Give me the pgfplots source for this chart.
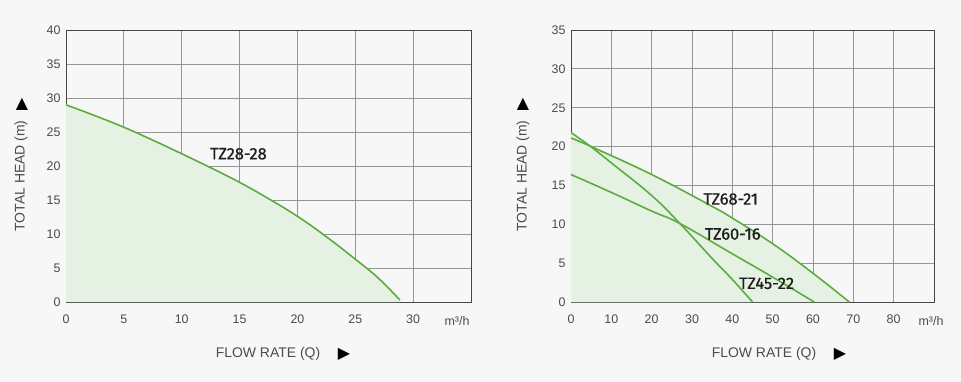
\documentclass[border=0pt]{standalone}
\usepackage{pgfplots}
\pgfplotsset{compat=1.18}
\usepackage{fontspec}
\setmainfont{Liberation Sans}
\newfontfamily\labfont{Fira Sans}[FakeBold=0.8]
\newfontfamily\symfont{DejaVu Sans}
\definecolor{bgcol}{RGB}{247,247,247}
\definecolor{gridcol}{RGB}{150,150,150}
\definecolor{framecol}{RGB}{70,70,70}
\definecolor{tickcol}{RGB}{75,75,75}
\definecolor{linecol}{RGB}{92,172,62}
\definecolor{fillcol}{RGB}{229,241,227}
\definecolor{labcol}{RGB}{30,30,30}
\tikzset{tzlab/.style={font=\labfont\fontsize{16.5}{18}\selectfont, text=labcol}}
\pgfplotsset{
  pump/.style={
    scale only axis, height=272bp, ymin=0,
    axis background/.style={fill=bgcol},
    grid=major, major grid style={draw=gridcol, line width=1pt},
    axis line style={draw=framecol, line width=1pt},
    tick style={draw=none},
    ticklabel style={font=\fontsize{12.5}{14}\selectfont, text=tickcol},
    xticklabel style={yshift=-9bp},
    yticklabel style={xshift=-2bp},
    /pgf/number format/assume math mode=true,
    clip=false,
  },
  curve/.style={draw=linecol, line width=1.6pt, smooth, tension=0.7},
  area/.style={fill=fillcol, draw=none, smooth, tension=0.7},
}
\begin{document}
\begin{tikzpicture}
\path[use as bounding box, fill=bgcol] (0,0) rectangle (961bp,382bp);
% Left chart
\begin{axis}[pump, at={(66bp,80bp)}, anchor=south west, width=405bp,
  xmin=0, xmax=35, ymax=40, xtick={0,5,...,30}, ytick={0,5,...,40}]
\addplot[area] coordinates {(0,29) (2.5,27.4) (5,25.7) (7.5,23.8) (10,21.8) (12.5,19.75) (15,17.6) (17.5,15.2) (20,12.6) (22.5,9.6) (25,6.3) (27,3.5) (28.85,0.3)} \closedcycle;
\addplot[curve] coordinates {(0,29) (2.5,27.4) (5,25.7) (7.5,23.8) (10,21.8) (12.5,19.75) (15,17.6) (17.5,15.2) (20,12.6) (22.5,9.6) (25,6.3) (27,3.5) (28.85,0.3)};
\node[tzlab] at (axis cs:14.9,21.8) {TZ28-28};
\end{axis}
% Right chart
\begin{axis}[pump, at={(571bp,80bp)}, anchor=south west, width=363bp,
  xmin=0, xmax=90, ymax=35, xtick={0,10,...,80}, ytick={0,5,...,35}]
\addplot[area] coordinates {(0,21.1) (5,20.0) (20,16.4) (35,12.3) (40,10.8) (50,7.5) (60,3.7) (69,0)} \closedcycle;
\addplot[area] coordinates {(0,21.8) (4.9,20.0) (10,17.9) (20,13.7) (27,10.1) (35,5.6) (40,2.9) (45,0)} \closedcycle;
\addplot[curve] coordinates {(0,21.1) (5,20.0) (20,16.4) (35,12.3) (40,10.8) (50,7.5) (60,3.7) (69,0)};
\addplot[curve] coordinates {(0,16.4) (10,14.1) (20,11.7) (27,10.1) (40,6.2) (50,3.2) (60.3,0)};
\addplot[curve] coordinates {(0,21.8) (4.9,20.0) (10,17.9) (20,13.7) (27,10.1) (35,5.6) (40,2.9) (45,0)};
\node[tzlab] at (axis cs:39.6,13.25) {TZ68-21};
\node[tzlab] at (axis cs:40.1,8.75) {TZ60-16};
\node[tzlab] at (axis cs:48.5,2.4) {TZ45-22};
\end{axis}
% Axis titles and units
\tikzset{ttl/.style={font=\fontsize{14}{16}\selectfont, text=tickcol, inner sep=0pt},
         sym/.style={font=\symfont\fontsize{16}{18}\selectfont, text=black, inner sep=0pt}}
\node[ttl, font=\fontsize{12.5}{14}\selectfont] at (457bp,61bp) {m³/h};
\node[ttl, font=\fontsize{12.5}{14}\selectfont] at (931bp,61bp) {m³/h};
\node[ttl, rotate=90] at (21bp,206bp) {TOTAL HEAD (m)};
\node[ttl, rotate=90] at (523bp,206bp) {TOTAL HEAD (m)};
\node[sym] at (22bp,278bp) {▲};
\node[sym] at (523bp,278bp) {▲};
\node[ttl] at (268bp,28bp) {FLOW RATE (Q)};
\node[ttl] at (764bp,28bp) {FLOW RATE (Q)};
\node[sym] at (344bp,28bp) {▶};
\node[sym] at (840bp,28bp) {▶};
\end{tikzpicture}
\end{document}
